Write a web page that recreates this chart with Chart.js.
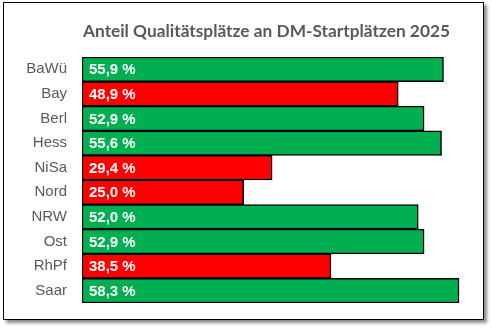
<!DOCTYPE html>
<html>
<head>
<meta charset="utf-8">
<script src="https://cdn.jsdelivr.net/npm/chart.js@4/dist/chart.umd.min.js"></script>
<style>
  html, body { margin: 0; padding: 0; background: #fff; }
  #wrap { position: relative; width: 492px; height: 329px; }
  #frame { position: absolute; left: 3px; top: 2px; width: 479px; height: 316px;
           border: 1px solid #000; background: #fff;
           box-shadow: 3px 3px 3px rgba(0,0,0,0.45); }
  #c { position: absolute; left: 0; top: 0; }
</style>
</head>
<body>
<div id="wrap">
  <div id="frame"></div>
  <canvas id="c" width="492" height="329"></canvas>
</div>
<script>
const titleText = "Anteil Qualitätsplätze an DM-Startplätzen 2025";
const categories = ["BaWü", "Bay", "Berl", "Hess", "NiSa", "Nord", "NRW", "Ost", "RhPf", "Saar"];
const shares = [55.9, 48.9, 52.9, 55.6, 29.4, 25.0, 52.0, 52.9, 38.5, 58.3];

const GREEN = "#00B050", RED = "#FF0000";
const barColors = shares.map(v => v < 50 ? RED : GREEN);

const titlePlugin = {
  id: "customTitle",
  afterDraw(chart) {
    const ctx = chart.ctx;
    ctx.save();
    ctx.font = "bold 17px Lato";
    ctx.fillStyle = "#595959";
    ctx.textBaseline = "middle";
    ctx.textAlign = "center";
    const w = ctx.measureText(titleText).width;
    const target = 367;
    const s = target / w;
    ctx.translate(266.5, 32);
    ctx.scale(s, 1);
    ctx.fillText(titleText, 0, 0);
    ctx.restore();
  }
};

const valueLabels = {
  id: "valueLabels",
  afterDatasetsDraw(chart) {
    const ctx = chart.ctx;
    const meta = chart.getDatasetMeta(0);
    ctx.save();
    ctx.font = "bold 15px 'Liberation Sans', Arial, sans-serif";
    ctx.fillStyle = "#ffffff";
    ctx.textBaseline = "middle";
    ctx.textAlign = "left";
    meta.data.forEach((bar, i) => {
      const txt = shares[i].toFixed(1).replace(".", ",") + " %";
      ctx.fillText(txt, bar.base + 7, bar.y + 1);
    });
    ctx.restore();
  }
};

new Chart(document.getElementById("c"), {
  type: "bar",
  data: {
    labels: categories,
    datasets: [{
      data: shares,
      backgroundColor: barColors,
      borderColor: "#000000",
      borderWidth: 1.5,
      borderSkipped: false,
      categoryPercentage: 1.0,
      barPercentage: 1.0
    }]
  },
  options: {
    indexAxis: "y",
    responsive: false,
    animation: false,
    devicePixelRatio: 1,
    layout: { padding: { top: 57, bottom: 26, right: 22, left: 0 } },
    plugins: { legend: { display: false }, title: { display: false }, tooltip: { enabled: false } },
    scales: {
      x: { display: false, min: 0, max: 60 },
      y: {
        grid: { display: false, drawTicks: false },
        border: { display: false },
        ticks: {
          color: "#595959",
          padding: 15,
          font: { family: "'Liberation Sans', Arial, sans-serif", size: 15 }
        },
        afterFit(scale) { scale.width = 82; }
      }
    }
  },
  plugins: [titlePlugin, valueLabels]
});
</script>
</body>
</html>
